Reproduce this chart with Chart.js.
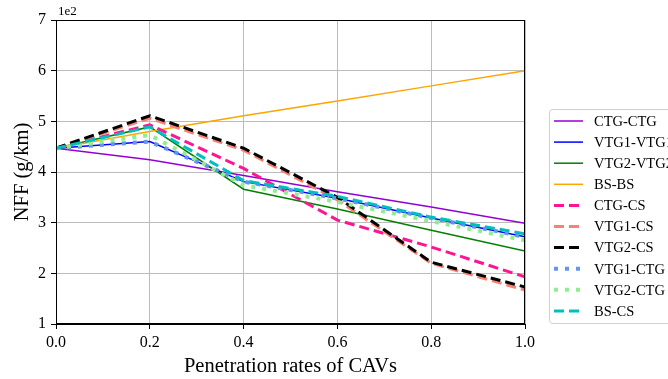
<!DOCTYPE html>
<html>
<head>
<meta charset="utf-8">
<script src="https://cdn.jsdelivr.net/npm/chart.js@4.4.0/dist/chart.umd.min.js"></script>
<style>
  html, body { margin: 0; padding: 0; background: #fff; }
  #wrap { width: 668px; height: 379px; }
</style>
</head>
<body>
<div id="wrap"><canvas id="chart" width="668" height="379"></canvas></div>
<script>
'use strict';

/* ------------------------------------------------------------ Data */
// Penetration rates of CAVs (x) and axis ticks
const RATES   = [0, 0.2, 0.4, 0.6, 0.8, 1.0];
const X_TICKS = [0, 0.2, 0.4, 0.6, 0.8, 1.0];
const Y_TICKS = [1, 2, 3, 4, 5, 6, 7];

// NFF (g/km), in units of 1e2
const CTG_CTG   = [4.47, 4.24, 3.93, 3.61, 3.31, 2.99];
const VTG1_VTG1 = [4.47, 4.60, 3.81, 3.48, 3.09, 2.72];
const VTG2_VTG2 = [4.47, 4.89, 3.66, 3.27, 2.85, 2.44];
const BS_BS     = [4.47, 4.80, 5.11, 5.40, 5.70, 6.00];
const CTG_CS    = [4.47, 4.93, 4.07, 3.05, 2.52, 1.93];
const VTG1_CS   = [4.47, 5.06, 4.43, 3.45, 2.20, 1.67];
const VTG2_CS   = [4.47, 5.11, 4.47, 3.50, 2.22, 1.73];
const VTG1_CTG  = [4.47, 4.60, 3.81, 3.48, 3.09, 2.72];
const VTG2_CTG  = [4.47, 4.73, 3.74, 3.41, 3.03, 2.65];
const BS_CS     = [4.47, 4.89, 3.83, 3.52, 3.11, 2.78];

const SERIES_NAMES = ['CTG-CTG', 'VTG1-VTG1', 'VTG2-VTG2', 'BS-BS', 'CTG-CS',
                      'VTG1-CS', 'VTG2-CS', 'VTG1-CTG', 'VTG2-CTG', 'BS-CS'];
const SERIES_VALUES = [CTG_CTG, VTG1_VTG1, VTG2_VTG2, BS_BS, CTG_CS,
                       VTG1_CS, VTG2_CS, VTG1_CTG, VTG2_CTG, BS_CS];

/* ------------------------------------------------------------ Styles */
const FONT = '"Liberation Serif", "DejaVu Serif", serif';
const SOLID = [], DASH = [10, 5], DOT = [4, 7];
const STYLE = [
  { color: '#9400d3', width: 1.5, dash: SOLID },
  { color: '#0000ff', width: 1.5, dash: SOLID },
  { color: '#008000', width: 1.5, dash: SOLID },
  { color: '#ffa500', width: 1.5, dash: SOLID },
  { color: '#ff1493', width: 3,   dash: DASH },
  { color: '#fa8072', width: 3,   dash: DASH },
  { color: '#000000', width: 3,   dash: DASH },
  { color: '#6495ed', width: 4,   dash: DOT },
  { color: '#90ee90', width: 4,   dash: DOT },
  { color: '#00bfbf', width: 3,   dash: DASH },
];

const datasets = SERIES_NAMES.map(function (name, i) {
  const st = STYLE[i];
  return {
    label: name,
    data: RATES.map(function (x, j) { return { x: x, y: SERIES_VALUES[i][j] }; }),
    borderColor: st.color,
    backgroundColor: st.color,
    borderWidth: st.width,
    borderDash: st.dash,
    pointRadius: 0,
    tension: 0,
    fill: false,
    order: SERIES_NAMES.length - i,   // later series on top, like matplotlib
  };
});

/* ------------------------------------------------------------ Plugins */
// black frame around the axes (top/right spines too)
const framePlugin = {
  id: 'frame',
  afterDatasetsDraw(chart) {
    const a = chart.chartArea, ctx = chart.ctx;
    ctx.save();
    ctx.strokeStyle = '#000';
    ctx.lineWidth = 1;
    ctx.strokeRect(Math.round(a.left) + 0.5, Math.round(a.top) + 0.5,
                   Math.round(a.right - a.left) - 1, Math.round(a.bottom - a.top) - 1);
    // offset text of the y axis
    ctx.fillStyle = '#000';
    ctx.font = '13px ' + FONT;
    ctx.textBaseline = 'bottom';
    ctx.textAlign = 'left';
    ctx.fillText('1e2', a.left + 2, a.top - 2);
    ctx.restore();
  }
};

// legend box on the right, partly outside the canvas as in the figure
const legendPlugin = {
  id: 'sideLegend',
  afterDraw(chart) {
    const ctx = chart.ctx;
    const x0 = 549.5, y0 = 109.5, w = 150, h = 214, r = 3;
    ctx.save();
    ctx.beginPath();
    ctx.moveTo(x0 + r, y0);
    ctx.lineTo(x0 + w, y0);
    ctx.lineTo(x0 + w, y0 + h);
    ctx.lineTo(x0 + r, y0 + h);
    ctx.arcTo(x0, y0 + h, x0, y0 + h - r, r);
    ctx.lineTo(x0, y0 + r);
    ctx.arcTo(x0, y0, x0 + r, y0, r);
    ctx.closePath();
    ctx.fillStyle = 'rgba(255,255,255,0.85)';
    ctx.fill();
    ctx.strokeStyle = '#d0d0d0';
    ctx.lineWidth = 1;
    ctx.stroke();

    chart.data.datasets.forEach(function (ds, i) {
      const y = 121 + i * 21.1;
      ctx.beginPath();
      ctx.setLineDash(ds.borderDash || []);
      ctx.lineWidth = ds.borderWidth;
      ctx.strokeStyle = ds.borderColor;
      ctx.moveTo(554, y);
      ctx.lineTo(583, y);
      ctx.stroke();
      ctx.setLineDash([]);
      ctx.fillStyle = '#000';
      ctx.font = '14.5px ' + FONT;
      ctx.textBaseline = 'middle';
      ctx.textAlign = 'left';
      ctx.fillText(ds.label, 594, y + 1);
    });
    ctx.restore();
  }
};

/* ------------------------------------------------------------ Chart */
Chart.defaults.color = '#000';
Chart.defaults.font.family = FONT;

new Chart(document.getElementById('chart'), {
  type: 'line',
  data: { datasets: datasets },
  options: {
    responsive: false,
    animation: false,
    devicePixelRatio: 1,
    layout: { padding: { top: 20, right: 143, left: 0, bottom: 0 } },
    plugins: { legend: { display: false }, tooltip: { enabled: false } },
    scales: {
      x: {
        type: 'linear', min: 0, max: 1,
        afterBuildTicks: function (s) { s.ticks = X_TICKS.map(function (v) { return { value: v }; }); },
        afterFit: function (s) { s.height = 55; },
        ticks: {
          font: { size: 16 }, padding: 4, maxRotation: 0, autoSkip: false,
          callback: function (v) { return Number(v).toFixed(1); },
        },
        grid: { color: '#bcbcbc', lineWidth: 1, tickLength: 5, tickColor: '#000' },
        border: { color: '#000', width: 1 },
        title: {
          display: true, text: 'Penetration rates of CAVs',
          font: { size: 20.5, lineHeight: 1.2 }, padding: { top: 0, bottom: 0 },
        },
      },
      y: {
        type: 'linear', min: 1, max: 7,
        afterBuildTicks: function (s) { s.ticks = Y_TICKS.map(function (v) { return { value: v }; }); },
        afterFit: function (s) { s.width = 56; },
        ticks: { font: { size: 16 }, padding: 5 },
        grid: { color: '#bcbcbc', lineWidth: 1, tickLength: 5, tickColor: '#000' },
        border: { color: '#000', width: 1 },
        title: {
          display: true, text: 'NFF (g/km)',
          font: { size: 20.5, lineHeight: 1.2 }, padding: { top: 10, bottom: 0 },
        },
      },
    },
  },
  plugins: [framePlugin, legendPlugin],
});
</script>
</body>
</html>
